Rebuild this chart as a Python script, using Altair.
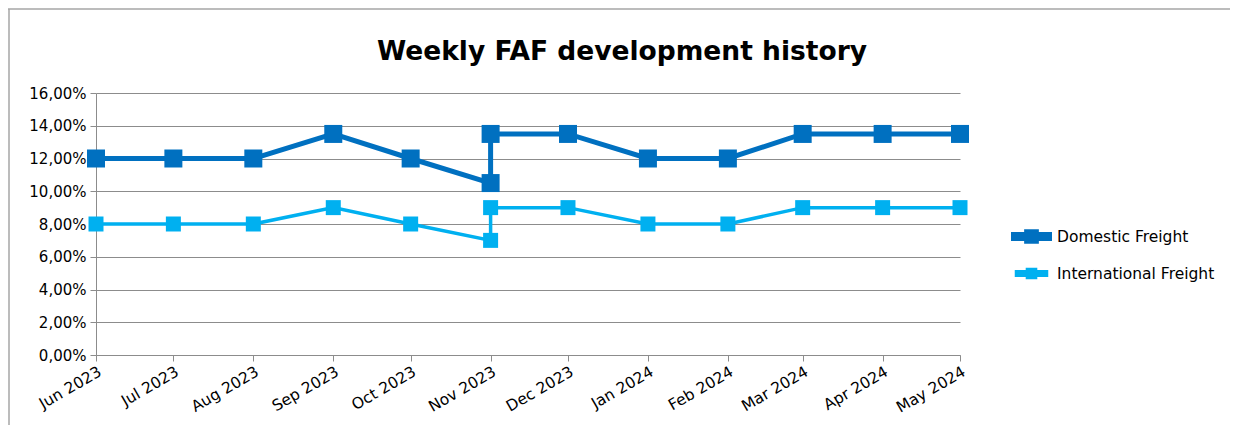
import altair as alt
import pandas as pd

months = ["2023-06-01", "2023-07-01", "2023-08-01", "2023-09-01", "2023-10-01",
          "2023-11-01", "2023-11-01", "2023-12-01", "2024-01-01", "2024-02-01",
          "2024-03-01", "2024-04-01", "2024-05-01"]
domestic = [0.12, 0.12, 0.12, 0.135, 0.12, 0.105, 0.135, 0.135, 0.12, 0.12, 0.135, 0.135, 0.135]
international = [0.08, 0.08, 0.08, 0.09, 0.08, 0.07, 0.09, 0.09, 0.08, 0.08, 0.09, 0.09, 0.09]
series = ["Domestic Freight", "International Freight"]
colors = ["#0070C0", "#00B0F0"]
tick_dates = ["2023-06-01", "2023-07-01", "2023-08-01", "2023-09-01", "2023-10-01",
              "2023-11-01", "2023-12-01", "2024-01-01", "2024-02-01", "2024-03-01",
              "2024-04-01", "2024-05-01"]
y_ticks = [0, 0.02, 0.04, 0.06, 0.08, 0.10, 0.12, 0.14, 0.16]
title_text = "Weekly FAF development history"

rows = []
for name, vals in zip(series, [domestic, international]):
    for i, (m, v) in enumerate(zip(months, vals)):
        rows.append({"date": m, "value": v, "series": name, "idx": i})
df = pd.DataFrame(rows)

FONT = "DejaVu Sans"
GRID = "#8C8C8C"
color_scale = alt.Scale(domain=series, range=colors)

x_enc = alt.X("date:T",
              scale=alt.Scale(domain=[tick_dates[0], tick_dates[-1]], nice=False),
              axis=alt.Axis(values=tick_dates, format="%b %Y", labelAngle=330,
                            title=None, grid=False, domainColor=GRID,
                            tickColor=GRID, tickSize=6, labelFontSize=15.5,
                            labelColor="#000000", labelFont=FONT, labelPadding=3,
                            labelOverlap=False))
y_enc = alt.Y("value:Q",
              scale=alt.Scale(domain=[0, 0.16], nice=False),
              axis=alt.Axis(values=y_ticks, title=None, grid=True, gridColor=GRID,
                            domainColor=GRID, tickColor=GRID, tickSize=6,
                            labelExpr="replace(format(datum.value, '.2%'), '.', ',')",
                            labelFontSize=15, labelColor="#000000", labelFont=FONT,
                            labelPadding=4, labelOverlap=False))
color_enc = alt.Color("series:N", scale=color_scale,
                      legend=alt.Legend(title=None, orient="none", legendX=924, legendY=132,
                                        symbolType="M-2,-0.22H2V0.22H-2Z M-0.54,-0.54H0.54V0.54H-0.54Z",
                                        symbolSize=2025, symbolStrokeWidth=0,
                                        symbolOpacity=1,
                                        labelFontSize=15.5, labelFont=FONT, labelColor="#000000",
                                        rowPadding=10, labelOffset=14, padding=0))

base = alt.Chart(df)

lines = base.mark_line().encode(
    x=x_enc, y=y_enc,
    color=color_enc,
    strokeWidth=alt.StrokeWidth("series:N", scale=alt.Scale(domain=series, range=[5, 3.5]), legend=None),
    order="idx:Q",
    detail="series:N",
)

points = base.mark_point(filled=True, shape="square", opacity=1).encode(
    x=x_enc, y=y_enc,
    color=color_enc,
    size=alt.Size("series:N", scale=alt.Scale(domain=series, range=[324, 225]), legend=None),
)

frame_df = pd.DataFrame({"k": [0]})
top_rule = alt.Chart(frame_df).mark_rule(color="#A6A6A6", strokeWidth=1.5).encode(
    x=alt.value(-88), x2=alt.value(1140), y=alt.value(-84))
left_rule = alt.Chart(frame_df).mark_rule(color="#A6A6A6", strokeWidth=1.5).encode(
    x=alt.value(-87), y=alt.value(-84), y2=alt.value(335))

title_df = pd.DataFrame({"t": [title_text]})
title_mark = alt.Chart(title_df).mark_text(
    font=FONT, fontSize=26.5, fontWeight="bold", color="#000000",
    align="center", baseline="alphabetic").encode(
    text="t:N", x=alt.value(526), y=alt.value(-33))

chart = alt.layer(top_rule, left_rule, title_mark, lines, points).properties(
    width=864, height=262,
    autosize=alt.AutoSizeParams(type="none"),
    padding={"left": 88, "top": 85, "right": 270, "bottom": 70},
).configure_view(stroke=None)

chart.save("out.html", embed_options={"renderer": "svg", "actions": False})
